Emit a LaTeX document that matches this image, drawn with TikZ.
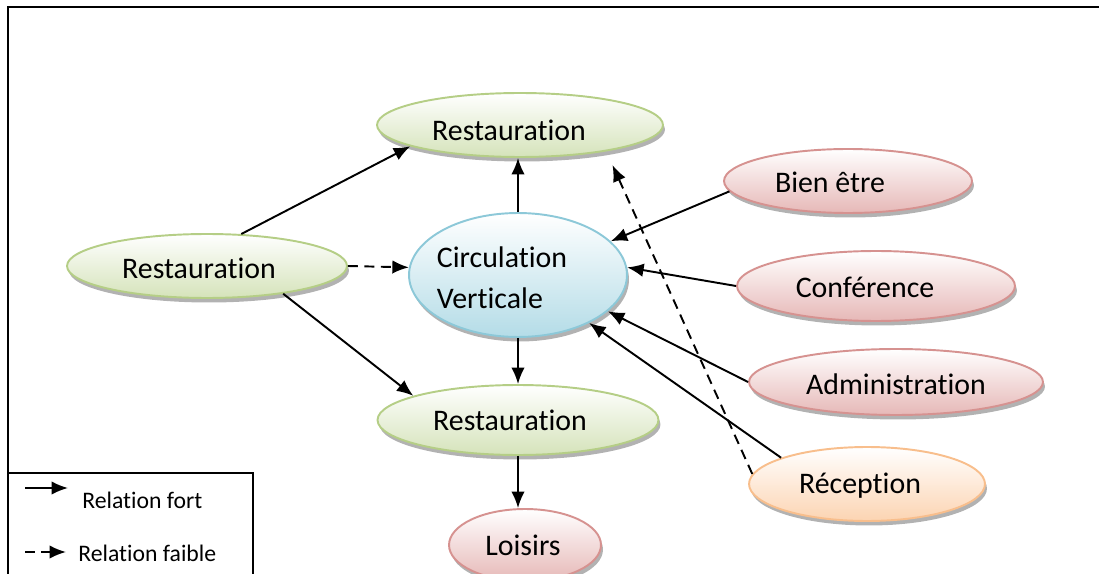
\documentclass[tikz,border=0pt]{standalone}
\usepackage{fontspec}
\setmainfont{Carlito}[RawFeature={-liga;-clig;-dlig}]
\usetikzlibrary{shapes.geometric,arrows.meta,shadows}
\definecolor{grB}{RGB}{181,206,134}
\definecolor{grF}{RGB}{213,227,186}
\definecolor{blB}{RGB}{140,200,216}
\definecolor{blF}{RGB}{180,220,231}
\definecolor{rdB}{RGB}{214,146,144}
\definecolor{rdF}{RGB}{230,184,183}
\definecolor{orB}{RGB}{248,190,140}
\definecolor{orF}{RGB}{252,212,178}
\tikzset{
  ell/.style={ellipse, inner sep=0pt, line width=1.1pt, top color=white,
    drop shadow={shadow xshift=0.04cm, shadow yshift=-0.09cm, fill=black, opacity=0.3}},
  lbl/.style={font=\fontsize{17}{23.5}\selectfont, inner sep=0pt, align=left},
  grn/.style={ell, draw=grB, bottom color=grF},
  blu/.style={ell, draw=blB, bottom color=blF},
  red/.style={ell, draw=rdB, bottom color=rdF},
  org/.style={ell, draw=orB, bottom color=orF},
  fort/.style={line width=1.1pt, -{Latex[length=0.33cm,width=0.27cm]}},
  faible/.style={fort, dash pattern=on 0.2cm off 0.13cm},
  frame/.style={line width=1pt},
  legtext/.style={font=\fontsize{13.5}{16}\selectfont, anchor=west, inner sep=0pt}
}
\begin{document}
\begin{tikzpicture}[x=0.02cm,y=-0.02cm]
\useasboundingbox (0,0) rectangle (1099,574);
% frame
\draw[frame] (8,574) -- (8,7) -- (1099,7);
% legend
\draw[frame] (8,473) -- (253,473) -- (253,574);
\coordinate (l1a) at (25,488);
\coordinate (l1b) at (68,488);
\coordinate (l2a) at (25,552);
\coordinate (l2b) at (66,552);
\draw[fort] (l1a) -- (l1b);
\draw[faible] (l2a) -- (l2b);
\node[legtext] (t1) at (82,500) {Relation fort};
\node[legtext] (t2) at (78,553) {Relation faible};
% nodes
\node[grn, minimum width=5.72cm, minimum height=1.28cm,
  label={[lbl, xshift=-0.22cm, yshift=-0.1cm]center:Restauration}] (top) at (520,125) {};
\node[grn, minimum width=5.6cm, minimum height=1.28cm,
  label={[lbl, xshift=-0.16cm, yshift=-0.04cm]center:Restauration}] (left) at (207,266) {};
\node[blu, minimum width=4.36cm, minimum height=2.48cm,
  label={[lbl, xshift=-0.32cm, yshift=-0.06cm]center:Circulation\\Verticale}] (circ) at (518,275) {};
\node[grn, minimum width=5.62cm, minimum height=1.4cm,
  label={[lbl, xshift=-0.16cm]center:Restauration}] (bot) at (518,420) {};
\node[red, minimum width=3.04cm, minimum height=1.44cm,
  label={[lbl, xshift=-0.04cm]center:Loisirs}] (lois) at (525,545) {};
\node[red, minimum width=4.96cm, minimum height=1.28cm,
  label={[lbl, xshift=-0.36cm, yshift=-0.02cm]center:Bien être}] (bien) at (848,181) {};
\node[red, minimum width=5.56cm, minimum height=1.4cm,
  label={[lbl, xshift=-0.22cm, yshift=-0.02cm]center:Conférence}] (conf) at (876,286) {};
\node[red, minimum width=5.88cm, minimum height=1.32cm,
  label={[lbl, yshift=-0.04cm]center:Administration}] (admin) at (896,382) {};
\node[org, minimum width=4.72cm, minimum height=1.48cm,
  label={[lbl, xshift=-0.14cm, yshift=-0.04cm]center:Réception}] (recep) at (867,484) {};
% connectors
\draw[fort] (left.43) -- (top.191);
\draw[fort] (left.-20) -- (bot.167);
\draw[faible] (left.east) -- (circ.176);
\draw[fort] (circ.north) -- (circ.north |- top.south);
\draw[fort] (circ.south) -- (bot.north);
\draw[fort] (bot.south) -- (bot.south |- lois.north);
\draw[fort] (bien.185) -- (circ.20);
\draw[fort] (conf.west) -- (circ.4);
\draw[fort] (admin.west) -- (circ.-22);
\draw[fort] (recep.163) -- (circ.-34);
\draw[faible, shorten >=0.3cm] (recep.175) -- (top.-17);
\end{tikzpicture}
\end{document}
